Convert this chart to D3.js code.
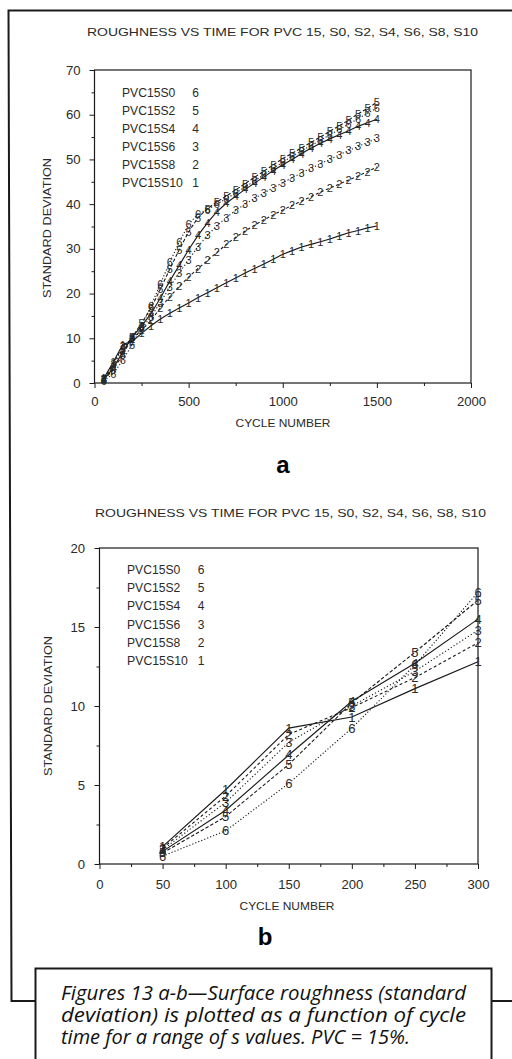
<!DOCTYPE html>
<html>
<head>
<meta charset="utf-8">
<script src="https://cdn.jsdelivr.net/npm/d3@7"></script>
<style>
  body { margin: 0; background: #fff; }
  svg { display: block; }
</style>
</head>
<body>
<svg id="fig" width="512" height="1059"></svg>
<script>
// ---- data ----------------------------------------------------------------
const cycles = [50, 100, 150, 200, 250, 300, 350, 400, 450, 500,
                550, 600, 650, 700, 750, 800, 850, 900, 950, 1000,
                1050, 1100, 1150, 1200, 1250, 1300, 1350, 1400, 1450, 1500];

const pvc15s0  = [0.5, 2.1, 5.1, 8.6, 12.6, 17.2, 22.2, 27.0, 31.5, 35.5,
                  37.8, 38.8, 40.0, 41.2, 42.5, 43.8, 45.2, 46.6, 48.0, 49.4,
                  50.7, 51.9, 53.1, 54.3, 55.5, 56.7, 57.9, 59.1, 60.3, 61.5];
const pvc15s2  = [0.7, 3.0, 6.3, 10.2, 13.4, 16.7, 21.0, 25.5, 29.8, 33.8,
                  37.0, 39.0, 40.5, 41.8, 43.2, 44.6, 46.0, 47.4, 48.8, 50.2,
                  51.4, 52.6, 53.8, 55.0, 56.3, 57.5, 58.8, 60.2, 61.4, 62.8];
const pvc15s4  = [0.8, 3.4, 6.9, 10.3, 12.7, 15.5, 19.0, 22.8, 26.3, 29.8,
                  33.0, 35.8, 38.3, 40.2, 41.8, 43.3, 44.7, 46.1, 47.5, 48.8,
                  50.0, 51.3, 52.5, 53.6, 54.6, 55.5, 56.4, 57.4, 58.2, 59.0];
const pvc15s6  = [0.9, 3.9, 7.7, 10.0, 12.2, 14.8, 18.0, 21.5, 24.6, 27.6,
                  30.5, 33.0, 35.2, 37.0, 38.6, 40.0, 41.3, 42.5, 43.7, 44.8,
                  45.9, 47.0, 48.0, 49.0, 50.0, 51.0, 52.0, 52.9, 53.8, 54.7];
const pvc15s8  = [1.0, 4.3, 8.2, 9.9, 11.8, 14.0, 16.8, 19.3, 21.6, 23.7,
                  25.6, 27.4, 29.2, 31.0, 32.6, 34.0, 35.3, 36.5, 37.6, 38.7,
                  39.7, 40.7, 41.7, 42.7, 43.6, 44.5, 45.4, 46.3, 47.3, 48.3];
const pvc15s10 = [1.1, 4.7, 8.6, 9.3, 11.1, 12.8, 14.3, 15.6, 16.8, 17.9,
                  19.1, 20.2, 21.3, 22.4, 23.5, 24.6, 25.6, 26.6, 27.7, 28.8,
                  29.6, 30.4, 31.0, 31.6, 32.2, 32.9, 33.6, 34.1, 34.7, 35.1];

const seriesNames  = ["PVC15S0", "PVC15S2", "PVC15S4", "PVC15S6", "PVC15S8", "PVC15S10"];
const seriesMarks  = ["6", "5", "4", "3", "2", "1"];
const seriesValues = [pvc15s0, pvc15s2, pvc15s4, pvc15s6, pvc15s8, pvc15s10];

const yTicksA = [0, 10, 20, 30, 40, 50, 60, 70];
const xTicksA = [0, 500, 1000, 1500, 2000];
const yTicksB = [0, 5, 10, 15, 20];
const xTicksB = [0, 50, 100, 150, 200, 250, 300];

const titleText  = "ROUGHNESS VS TIME FOR PVC 15, S0, S2, S4, S6, S8, S10";
const xAxisTitle = "CYCLE NUMBER";
const yAxisTitle = "STANDARD DEVIATION";
const captionLines = [
  "Figures 13 a-b\u2014Surface roughness (standard",
  "deviation) is plotted as a function of cycle",
  "time for a range of s values. PVC = 15%."
];

// ---- styling ---------------------------------------------------------------
const INK = "#1a1a1a";
const TXT = "#2a2a2a";
const PLOT_FONT = "'Liberation Sans', Arial, sans-serif";
// line pattern per series
const dashFor = {
  "PVC15S0": "1.2,2",
  "PVC15S2": "3.5,2",
  "PVC15S4": null,
  "PVC15S6": "1.2,2.2",
  "PVC15S8": "3,2.5",
  "PVC15S10": null
};

const svg = d3.select("#fig");

// outer page frame
svg.append("path")
  .attr("d", "M512,10.5 L8.5,10.5 L11.5,1001 L36,1001 M491,1001 L512,1001")
  .attr("fill", "none").attr("stroke", INK).attr("stroke-width", 2);

function plotText(sel, size) {
  return sel.attr("font-family", PLOT_FONT).attr("font-size", size).attr("fill", TXT);
}

function drawPanel(cfg) {
  const g = svg.append("g");
  const x = d3.scaleLinear().domain(cfg.xDomain).range([cfg.left, cfg.right]);
  const y = d3.scaleLinear().domain(cfg.yDomain).range([cfg.bottom, cfg.top]);

  // title
  plotText(g.append("text"), 10.5)
    .attr("x", cfg.titleX).attr("y", cfg.titleY)
    .attr("textLength", cfg.titleLen).attr("lengthAdjust", "spacingAndGlyphs")
    .attr("dominant-baseline", "central")
    .text(titleText);

  // minor ticks
  const minorX = d3.axisBottom(x).tickValues(cfg.xMinor).tickSize(3).tickFormat("");
  const minorY = d3.axisLeft(y).tickValues(cfg.yMinor).tickSize(3).tickFormat("");
  g.append("g").attr("transform", `translate(0,${cfg.bottom})`).call(minorX)
    .call(a => a.select(".domain").remove());
  g.append("g").attr("transform", `translate(${cfg.left},0)`).call(minorY)
    .call(a => a.select(".domain").remove());

  // major ticks + labels
  const ax = g.append("g").attr("transform", `translate(0,${cfg.bottom})`)
    .call(d3.axisBottom(x).tickValues(cfg.xTicks).tickSize(5).tickPadding(cfg.xPad).tickFormat(d3.format("d")));
  const ay = g.append("g").attr("transform", `translate(${cfg.left},0)`)
    .call(d3.axisLeft(y).tickValues(cfg.yTicks).tickSize(5).tickPadding(cfg.yPad).tickFormat(d3.format("d")));
  [ax, ay].forEach(a => {
    a.select(".domain").remove();
    plotText(a.selectAll("text"), 12.5);
    a.selectAll("text").each(function () {
      const t = d3.select(this);
      t.attr("textLength", t.text().length * 7.3).attr("lengthAdjust", "spacingAndGlyphs");
    });
  });
  g.selectAll(".tick line").attr("stroke", INK).attr("stroke-width", 1);

  // plot frame
  g.append("rect")
    .attr("x", cfg.left).attr("y", cfg.top)
    .attr("width", cfg.right - cfg.left).attr("height", cfg.bottom - cfg.top)
    .attr("fill", "none").attr("stroke", INK).attr("stroke-width", 1.2);

  // axis titles
  plotText(g.append("text"), 11.5)
    .attr("x", cfg.xTitleX).attr("y", cfg.xTitleY)
    .attr("text-anchor", "middle").attr("dominant-baseline", "central")
    .attr("textLength", 95).attr("lengthAdjust", "spacingAndGlyphs")
    .text(xAxisTitle);
  plotText(g.append("text"), 11.5)
    .attr("transform", `translate(${cfg.yTitleX},${cfg.yTitleY}) rotate(-90)`)
    .attr("text-anchor", "middle").attr("dominant-baseline", "central")
    .attr("textLength", 140).attr("lengthAdjust", "spacingAndGlyphs")
    .text(yAxisTitle);

  // series: line plus a numeral at every data point
  const line = d3.line().x(d => x(d[0])).y(d => y(d[1]));
  seriesNames.forEach((name, i) => {
    const pts = cycles.slice(0, cfg.nPoints).map((c, k) => [c, seriesValues[i][k]]);
    const dash = dashFor[name];
    g.append("path")
      .datum(pts)
      .attr("d", line)
      .attr("fill", "none")
      .attr("stroke", INK)
      .attr("stroke-width", dash ? 1.1 : 1.15)
      .attr("stroke-dasharray", dash);
    plotText(g.selectAll(null).data(pts).enter().append("text"), cfg.markSize)
      .attr("x", d => x(d[0])).attr("y", d => y(d[1]))
      .attr("text-anchor", "middle").attr("dominant-baseline", "central")
      .text(seriesMarks[i]);
  });

  // legend
  seriesNames.forEach((name, i) => {
    const yy = cfg.legendY + i * cfg.legendStep;
    plotText(g.append("text"), 12)
      .attr("x", cfg.legendX).attr("y", yy)
      .attr("dominant-baseline", "central")
      .attr("textLength", name.length * 7.6).attr("lengthAdjust", "spacingAndGlyphs")
      .text(name);
    plotText(g.append("text"), 12)
      .attr("x", cfg.legendMarkX).attr("y", yy)
      .attr("text-anchor", "middle").attr("dominant-baseline", "central")
      .text(seriesMarks[i]);
  });

  // panel letter
  g.append("text")
    .attr("x", cfg.letterX).attr("y", cfg.letterY)
    .attr("text-anchor", "middle")
    .attr("font-family", "'Liberation Sans', Arial, sans-serif")
    .attr("font-weight", "bold").attr("font-size", 24).attr("fill", "#000")
    .text(cfg.letter);
}

// panel a: full run
drawPanel({
  xDomain: [0, 2000], yDomain: [0, 70],
  left: 94.5, right: 471, top: 70, bottom: 383,
  xTicks: xTicksA, yTicks: yTicksA,
  xMinor: [250, 750, 1250, 1750], yMinor: [5, 15, 25, 35, 45, 55, 65],
  xPad: 9, yPad: 9,
  titleX: 87, titleY: 32, titleLen: 391,
  xTitleX: 283, xTitleY: 423, yTitleX: 47, yTitleY: 228,
  nPoints: cycles.length, markSize: 11,
  legendX: 122, legendY: 92.5, legendStep: 18, legendMarkX: 195.5,
  letter: "a", letterX: 283, letterY: 473
});

// panel b: first 300 cycles
drawPanel({
  xDomain: [0, 300], yDomain: [0, 20],
  left: 99.5, right: 478, top: 548, bottom: 864,
  xTicks: xTicksB, yTicks: yTicksB,
  xMinor: [25, 75, 125, 175, 225, 275], yMinor: [2.5, 7.5, 12.5, 17.5],
  xPad: 11, yPad: 9.5,
  titleX: 95, titleY: 513, titleLen: 391,
  xTitleX: 287, xTitleY: 906, yTitleX: 48, yTitleY: 706,
  nPoints: 6, markSize: 13,
  legendX: 127, legendY: 570, legendStep: 18.2, legendMarkX: 201,
  letter: "b", letterX: 265, letterY: 945
});

// caption box
svg.append("rect")
  .attr("x", 35.5).attr("y", 968.5).attr("width", 456).attr("height", 110)
  .attr("fill", "#fff").attr("stroke", INK).attr("stroke-width", 2);
const cap = svg.append("g")
  .attr("font-family", "'Open Sans', 'Noto Sans', sans-serif")
  .attr("font-style", "italic").attr("font-size", 19.5).attr("fill", "#111");
const capWidths = [405, 405, 349];
captionLines.forEach((t, i) => {
  cap.append("text").attr("x", 61).attr("y", 999.5 + i * 22.4)
    .attr("textLength", capWidths[i]).attr("lengthAdjust", "spacingAndGlyphs")
    .text(t);
});
</script>
</body>
</html>
